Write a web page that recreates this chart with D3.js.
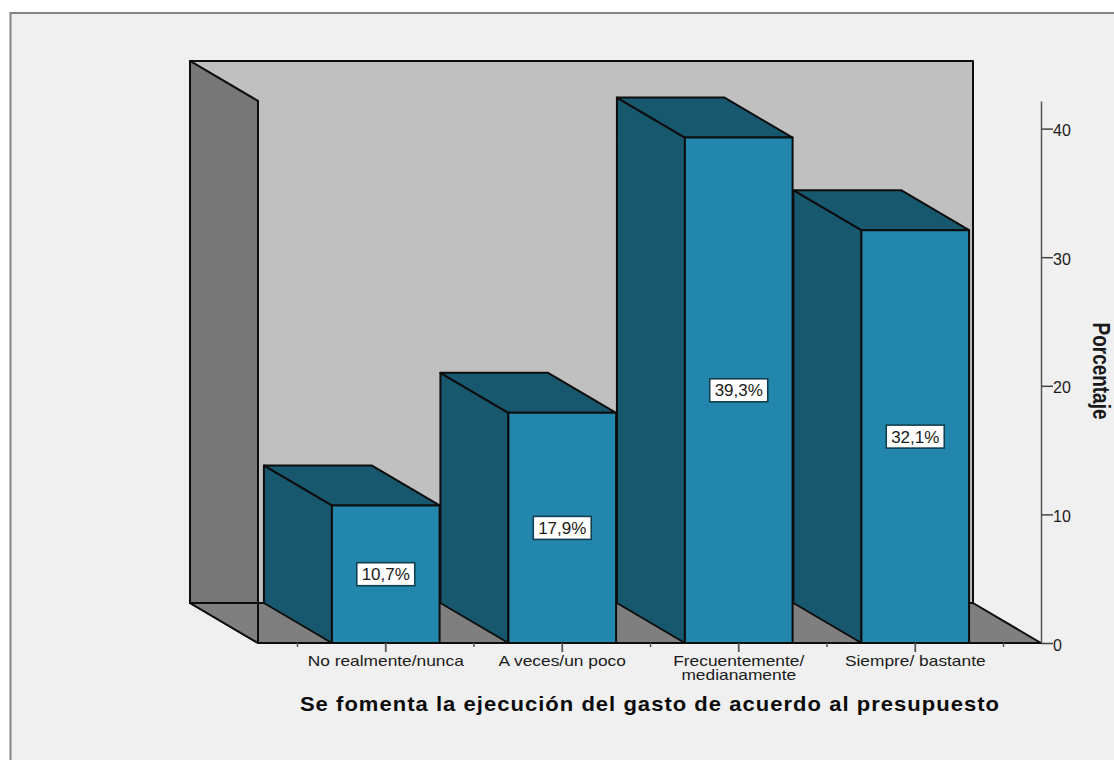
<!DOCTYPE html>
<html lang="es">
<head>
<meta charset="utf-8">
<title>Se fomenta la ejecución del gasto de acuerdo al presupuesto</title>
<script src="https://cdn.jsdelivr.net/npm/d3@7/dist/d3.min.js"></script>
<style>
  html, body { margin: 0; padding: 0; background: #fff; }
  svg { display: block; }
  text { font-family: "Liberation Sans", Arial, sans-serif; fill: #1a1a1a; }
</style>
</head>
<body>
<svg id="chart" width="1114" height="760"></svg>
<script>
const categories = ["No realmente/nunca", "A veces/un poco", "Frecuentemente/\nmedianamente", "Siempre/ bastante"];
const percentages = [10.7, 17.9, 39.3, 32.1];
const valueTicks = [0, 10, 20, 30, 40];
const axisTitle = "Porcentaje";
const categoryTitle = "Se fomenta la ejecución del gasto de acuerdo al presupuesto";

const colors = {
  panel: "#f0f0f0", frame: "#858585", backWall: "#c0c0c0", sideWall: "#777777",
  floor: "#7f7f7f", barFront: "#2387ad", barSide: "#17586f", barTop: "#17586f", ink: "#0d0d0d"
};

const svg = d3.select("#chart");

// Oblique projection: the depth of the box shifts everything up and to the left.
const depthX = 68, depthY = 40;
const y = d3.scaleLinear().domain([0, 40]).range([643, 128.6]);
const x = d3.scaleBand().domain(categories).range([297.5, 1003.5]).paddingInner(0.39).paddingOuter(0.195);
const plotLeft = 258, plotRight = 1041, topValue = 42.15;

const poly = (points, fill, stroke = colors.ink, width = 2) =>
  svg.append("polygon")
    .attr("points", points.map(p => p.join(",")).join(" "))
    .attr("fill", fill).attr("stroke", stroke)
    .attr("stroke-width", width).attr("stroke-linejoin", "round");

// Panel with its frame on the top and left edges only
svg.append("rect").attr("x", 10).attr("y", 13).attr("width", 1104).attr("height", 747).attr("fill", colors.panel);
svg.append("path").attr("d", "M10.5,760V13H1114").attr("fill", "none").attr("stroke", colors.frame).attr("stroke-width", 2);

// Box: back wall, left wall, floor
const y0 = y(0), yTop = y(topValue);
poly([[plotLeft - depthX, yTop - depthY], [plotRight - depthX, yTop - depthY], [plotRight - depthX, y0 - depthY], [plotLeft - depthX, y0 - depthY]], colors.backWall);
poly([[plotLeft - depthX, yTop - depthY], [plotLeft, yTop], [plotLeft, y0], [plotLeft - depthX, y0 - depthY]], colors.sideWall);
poly([[plotLeft - depthX, y0 - depthY], [plotRight - depthX, y0 - depthY], [plotRight, y0], [plotLeft, y0]], colors.floor);
svg.append("line").attr("x1", plotLeft).attr("x2", plotLeft).attr("y1", y0 - depthY).attr("y2", y0)
  .attr("stroke", colors.ink).attr("stroke-width", 2);

// Bars: left side, top, then front face
categories.forEach((c, i) => {
  const x0 = x(c), x1 = x0 + x.bandwidth(), top = y(percentages[i]);
  poly([[x0 - depthX, top - depthY], [x0, top], [x0, y0], [x0 - depthX, y0 - depthY]], colors.barSide);
  poly([[x0 - depthX, top - depthY], [x1 - depthX, top - depthY], [x1, top], [x0, top]], colors.barTop);
  poly([[x0, top], [x1, top], [x1, y0], [x0, y0]], colors.barFront);
});

// Value labels in white boxes at the middle of each front face
categories.forEach((c, i) => {
  const cx = x(c) + x.bandwidth() / 2, cy = y(percentages[i] / 2);
  svg.append("rect").attr("x", cx - 29).attr("y", cy - 11.5).attr("width", 58).attr("height", 23)
    .attr("fill", "#fff").attr("stroke", "#123f50").attr("stroke-width", 1.6);
  svg.append("text").attr("x", cx).attr("y", cy + 6).attr("text-anchor", "middle")
    .attr("font-size", 17).text(String(percentages[i]).replace(".", ",") + "%");
});

// Value axis on the right
const axisG = svg.append("g").attr("transform", `translate(${plotRight},0)`)
  .call(d3.axisRight(y.copy().domain([0, topValue]).range([y0, yTop])).tickValues(valueTicks).tickSize(12).tickPadding(0).tickSizeOuter(0));
axisG.select(".domain").attr("stroke", "#555").attr("stroke-width", 1.5);
axisG.selectAll(".tick line").attr("stroke", "#444").attr("stroke-width", 1.5);
axisG.selectAll(".tick text").attr("font-size", 16).attr("font-family", "Liberation Sans")
  .attr("dy", "0.44em").attr("fill", "#1a1a1a");

// Narrow, tall lettering reads along the axis from top to bottom
svg.append("text").attr("transform", "translate(1093,371) rotate(90) scale(0.79,1)").attr("text-anchor", "middle")
  .attr("font-size", 24).attr("font-weight", "bold").text(axisTitle);

// Baseline and category ticks
svg.append("line").attr("x1", plotLeft).attr("x2", plotRight).attr("y1", y0).attr("y2", y0)
  .attr("stroke", colors.ink).attr("stroke-width", 2);
const step = x.step();
categories.forEach((c, i) => {
  const cx = x(c) + x.bandwidth() / 2;
  svg.append("line").attr("x1", cx).attr("x2", cx).attr("y1", y0).attr("y2", y0 + 9).attr("stroke", "#555").attr("stroke-width", 1.8);
  svg.append("line").attr("x1", cx - step / 2).attr("x2", cx - step / 2).attr("y1", y0).attr("y2", y0 + 4).attr("stroke", "#555").attr("stroke-width", 1.5);
  c.split("\n").forEach((part, j) => {
    svg.append("text").attr("transform", `translate(${cx},${665.5 + j * 14}) scale(1.24,1)`)
      .attr("text-anchor", "middle").attr("font-size", 14).text(part);
  });
});
const lastTick = x(categories[3]) + x.bandwidth() / 2 + step / 2;
svg.append("line").attr("x1", lastTick).attr("x2", lastTick).attr("y1", y0).attr("y2", y0 + 4).attr("stroke", "#555").attr("stroke-width", 1.5);

// Category axis title
svg.append("text").attr("transform", "translate(650,711) scale(1.1,1)").attr("text-anchor", "middle")
  .attr("font-size", 20).attr("font-weight", "bold")
  .style("letter-spacing", "0.94px").style("fill", "#0a0a0a").text(categoryTitle);
</script>
</body>
</html>
